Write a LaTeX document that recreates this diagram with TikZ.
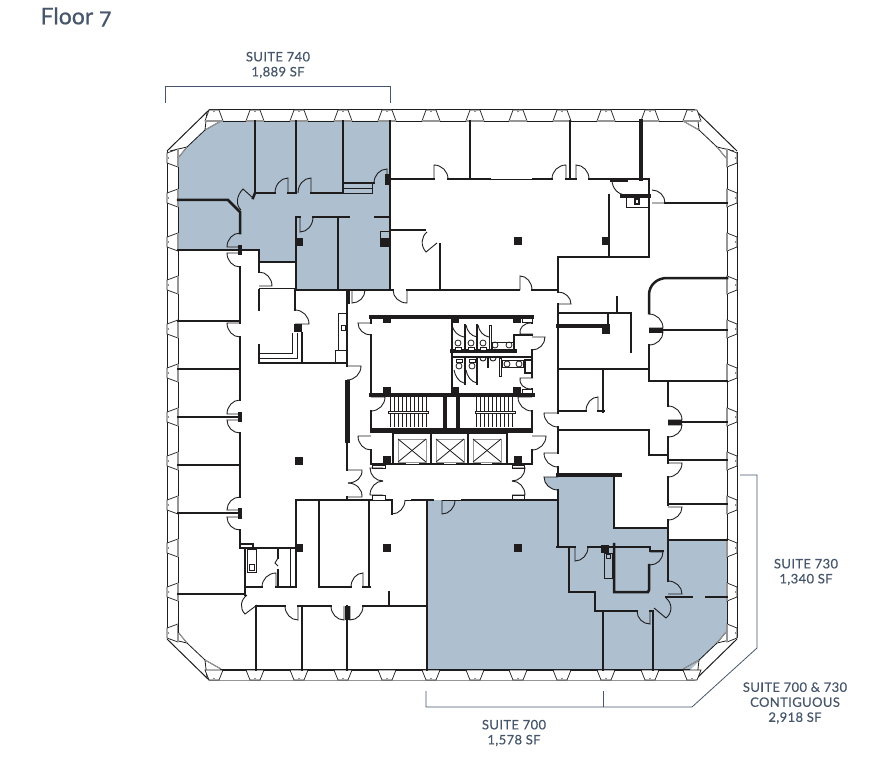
\documentclass[tikz,border=0pt]{standalone}
\usepackage{fontspec}
\setmainfont{Lato}
\newfontfamily\suitefont[FakeBold=0.45,LetterSpace=3]{Lato}
\newfontfamily\floorfont[Numbers=OldStyle,FakeBold=0.6]{Lato}
\usepackage{xcolor}
\usetikzlibrary{calc}
\definecolor{suiteblue}{RGB}{174,191,208}
\definecolor{suiteslate}{RGB}{71,86,107}
\definecolor{glassgray}{RGB}{150,150,150}
\definecolor{wallblack}{RGB}{30,28,28}
\tikzset{
    wall/.style={wallblack, line width=2.5pt, line cap=rect},
    wallheavy/.style={wallblack, line width=3.5pt, line cap=rect},
    wallfat/.style={wallblack, line width=5pt},
    thinline/.style={wallblack, line width=0.8pt},
    swingline/.style={wallblack, line width=0.9pt},
    shell/.style={wallblack, line width=1pt},
    glass/.style={glassgray, line width=1.4pt},
    mullion/.style={wallblack, line width=0.7pt, fill=white},
    leader/.style={suiteslate, line width=0.8pt},
    suitelabel/.style={suiteslate, align=center, font=\suitefont\fontsize{13}{15}\selectfont},
}
% hinge, end of the leaf, end of the swing
\newcommand{\swing}[3]{
    \coordinate (swingcorner) at ($(#2)+(#3)-(#1)$);
    \draw[swingline] (#1) -- (#2) .. controls ($(#2)!0.55!(swingcorner)$) and ($(#3)!0.55!(swingcorner)$) .. (#3);
}
\begin{document}
\begin{tikzpicture}[x=1pt, y=-1pt]
    \useasboundingbox (0,0) rectangle (894,762);

    % Leased suites
    \fill[suiteblue] (221,121) -- (390,121) -- (390,290) -- (296,290) -- (296,262) -- (259,262)
        -- (259,250) -- (178,250) -- (178,158) -- (187,147) -- (205,130) -- cycle;
    \fill[suiteblue] (427,500) -- (558,500) -- (558,490) .. controls (550,490) and (544,485) .. (544,477)
        -- (558,477) -- (558,475) -- (614,475) -- (614,528) -- (668,528) -- (668,540) -- (727,540) -- (727,632)
        -- (718,642) -- (700,660) -- (690,670) -- (427,670) -- cycle;

    % Building shell
    \draw[shell] (209,110) -- (695,110);
    \draw[shell] (737,152) -- (737,638);
    \draw[shell] (167,151) -- (167,638);
    \draw[glass, line width=1pt] (209,680) -- (695,680);
    \draw[thinline] (221,121) -- (692,121);
    \draw[thinline] (178,158) -- (178,633);
    \draw[thinline] (727,163) -- (727,632);
    \draw[wall, line width=2.2pt, line cap=butt] (220,670) -- (690,670);
    \foreach \sx/\sy in {1/1,-1/1,1/-1,-1/-1} {
        \begin{scope}[shift={(452,395)}, xscale=\sx, yscale=\sy]
            \draw[shell] (-243,-285) -- (-285,-244);
            \draw[thinline] (-245,-283) -- (-247,-265) -- (-231,-274);
            \draw[thinline] (-282,-244) -- (-265,-248) -- (-274,-237);
            \draw[thinline] (-247,-265) -- (-265,-248);
            \draw[glass, line width=1pt] (-231,-274) -- (-247,-265);
            \draw[glass, line width=1pt] (-265,-248) -- (-274,-237);
        \end{scope}
    }

    % Window mullions
    \foreach \mx in {214,255,299,343,387,431,475,518,562,606,650,692} {
        \draw[mullion] (\mx-5,110) -- (\mx+5,110) -- (\mx+9,121) -- (\mx-9,121) -- cycle;
        \draw[glass] (\mx-9,121) -- (\mx+9,121);
        \fill[wallblack] (\mx,111.5) circle (0.7);
        \draw[mullion] (\mx-5,680) -- (\mx+5,680) -- (\mx+9,670) -- (\mx-9,670) -- cycle;
        \fill[wallblack] (\mx,678.5) circle (0.7);
    }
    \foreach \my in {158,198,242,285,329,373,417,461,505,548,592,633} {
        \draw[mullion] (167,\my-5) -- (167,\my+5) -- (178,\my+9) -- (178,\my-9) -- cycle;
        \draw[glass] (178,\my-9) -- (178,\my+9);
        \fill[wallblack] (168.5,\my) circle (0.7);
        \draw[mullion] (737,\my-5) -- (737,\my+5) -- (727,\my+9) -- (727,\my-9) -- cycle;
        \draw[glass] (727,\my-9) -- (727,\my+9);
        \fill[wallblack] (735.5,\my) circle (0.7);
    }

    % Columns
    \foreach \cx/\cy in {299/242,385/242,518/241,606/241,298/328,606/330,299/461,299/548,387/548,518/548,605/549,
        387/319,455/319,517/319,387/391,455/391,517/391,387/460,518/460} {
        \fill[wallblack] (\cx-4,\cy-4) rectangle (\cx+4,\cy+4);
    }

    % Suite 740 walls
    \draw[wall] (255,121) -- (255,193) -- (275,193);
    \draw[wall] (288,193) -- (296,193);
    \draw[wall] (296,121) -- (296,193);
    \draw[wall] (343,121) -- (343,193) -- (311,193);
    \draw[wall] (343,183) -- (374,183);
    \draw[thinline] (343,188) -- (372,188);
    \draw[thinline] (343,193) -- (372,193) -- (372,183);
    \draw[wall] (390,121) -- (390,290) -- (296,290);
    \draw[wallheavy] (387,176) -- (387,183);
    \swing{288,193}{288,178}{275,193}
    \swing{311,193}{311,178}{298,193}
    \swing{387,183}{387,169}{374,183}
    \swing{253,198}{243,189}{241,210}
    \draw[wall] (255,193) -- (253,198);
    \draw[wall] (178,200) -- (228,200) -- (240,212) -- (240,233);
    \swing{240,247}{227,247}{240,233}
    \swing{240,253}{227,253}{240,267}
    \draw[wallheavy] (240,247) -- (240,253);
    \draw[wall] (178,250) -- (259,250) -- (259,262) -- (296,262);
    \draw[wall] (259,262) -- (259,272);
    \swing{259,286}{272,286}{259,272}
    \draw[wall] (296,217) -- (296,290);
    \draw[wall] (313,217) -- (349,217);
    \draw[wall] (375,217) -- (390,217);
    \swing{300,217}{300,232}{313,217}
    \draw[wall] (296,217) -- (300,217);
    \draw[wall] (338,217) -- (338,290);
    \draw[thinline] (380,231) rectangle (390,246);

    % West offices
    \draw[wall] (240,267) -- (240,323);
    \draw[wall] (178,321) -- (240,321);
    \swing{240,323}{227,323}{240,337}
    \draw[wall] (240,337) -- (240,400);
    \draw[wall] (178,369) -- (240,369);
    \draw[wall] (178,417) -- (240,417);
    \swing{240,414}{227,414}{240,400}
    \swing{240,420}{227,420}{240,433}
    \draw[wallheavy] (240,414) -- (240,420);
    \draw[wall] (240,433) -- (240,497);
    \draw[wall] (178,465) -- (240,465);
    \draw[wall] (178,513) -- (240,513);
    \swing{240,510}{227,510}{240,497}
    \swing{240,517}{227,517}{240,530}
    \draw[wallheavy] (240,510) -- (240,517);
    \draw[wall] (240,530) -- (240,548) -- (296,548);
    \draw[wall] (242,544) -- (253,544) -- (253,548);

    % Work room north of the main corridor
    \draw[wall] (259,345) -- (259,363) -- (347,363);
    \draw[wall] (259,290) -- (259,310);
    \draw[thinline] (259,288) -- (295,288);
    \draw[wall] (295,290) -- (295,310);
    \swing{295,324}{309,324}{295,310}
    \draw[thinline] (260,353) -- (292,353) -- (292,333);
    \draw[thinline] (260,358) -- (297,358) -- (297,333);
    \draw[wall] (302,333) -- (302,363);
    \draw[wall] (347,290) -- (347,362);
    \draw[thinline] (338,313) rectangle (347,350);
    \draw[thinline] (335,350) rectangle (347,362);
    \draw[thinline] (341,325) rectangle (345,330);

    % South-west rooms
    \draw[wall] (296,500) -- (296,587);
    \draw[wall] (296,500) -- (392,500) -- (392,514);
    \draw[wall] (319,500) -- (319,587) -- (351,587);
    \swing{363,587}{363,573}{351,587}
    \draw[wall] (363,587) -- (370,587);
    \draw[wall] (369,500) -- (369,587);
    \swing{392,500}{392,514}{405,500}
    \draw[wall] (412,500) -- (433,500);
    \draw[thinline] (405,500) -- (412,500);
    \draw[wall] (245,548) -- (245,595);
    \draw[wall] (245,587) -- (262,587);
    \swing{276,587}{276,573}{262,587}
    \draw[wall] (276,587) -- (296,587);
    \draw[wall] (278,548) -- (278,558);
    \draw[wall] (278,570) -- (278,587);
    \draw[swingline] (278,558) -- (275,563) -- (278,566);
    \draw[thinline] (290,549) -- (290,586);
    \draw[thinline] (247,549) rectangle (256,572);
    \draw[thinline] (249,564) rectangle (254,570);
    \draw[wall] (178,594) -- (245,594);
    \swing{257,605}{245,614}{247,595}
    \draw[wall] (257,606) -- (285,606);
    \swing{298,606}{298,620}{285,606}
    \draw[wall] (298,606) -- (331,606);
    \swing{344,606}{344,620}{331,606}
    \swing{350,606}{350,620}{363,606}
    \draw[wallfat] (347,606) -- (347,620);
    \draw[wall] (363,606) -- (427,606);
    \draw[wall] (389,592) -- (389,606);
    \draw[wall] (256,606) -- (256,670);
    \draw[wall] (302,606) -- (302,670);
    \draw[wall] (347,606) -- (347,670);
    \draw[wall] (427,500) -- (427,670);
    \draw[thinline] (178,615) -- (178,633);

    % North rooms
    \draw[wall] (390,179) -- (434,179);
    \swing{434,179}{434,165}{448,179}
    \draw[wall] (448,179) -- (490,179);
    \draw[thinline] (490,179) -- (533,179);
    \draw[wall] (533,179) -- (552,179);
    \swing{566,179}{566,165}{552,179}
    \draw[wall] (566,179) -- (576,179);
    \swing{576,179}{576,165}{589,179}
    \draw[wall] (589,179) -- (649,179) -- (649,257) -- (558,257);
    \draw[wall] (470,121) -- (470,179);
    \draw[wall] (570,121) -- (570,179);
    \draw[wallheavy] (641,121) -- (641,179);
    \draw[wallheavy] (612,180) -- (626,180);
    \swing{626,180}{612,180}{626,195}
    \draw[wallheavy] (622,196) -- (649,196);
    \draw[thinline] (626,197) rectangle (649,207);
    \draw[wallblack, fill=white, line width=1.5pt] (635,199) rectangle (639,204);
    \swing{652,203}{665,203}{652,190}
    \draw[wall] (665,203) -- (727,203);
    \draw[wall] (609,195) -- (609,257);
    \draw[wall] (558,257) -- (558,292);
    \swing{558,304}{571,304}{558,292}
    \draw[wall] (558,304) -- (558,413);
    \draw[wall] (440,244) -- (440,290) -- (407,290);
    \draw[wall] (440,290) -- (519,290);
    \swing{520,290}{520,276}{532,290}
    \draw[wall] (532,290) -- (558,290);
    \draw[wall] (390,230) -- (425,230);
    \swing{437,243}{426,252}{427,232}
    \swing{407,290}{407,303}{393,290}
    \draw[wall] (349,290) -- (349,303);
    \swing{352,290}{352,303}{365,290}
    \draw[wall] (365,290) -- (393,290);
    \draw[thinline] (347,290) -- (352,290);

    % Corridor west wall
    \swing{347,366}{361,366}{347,380}
    \draw[wall] (347,362) -- (347,366);
    \draw[wallfat] (347,380) -- (347,443);
    \draw[wall] (347,443) -- (347,470);
    \swing{347,470}{362,470}{348,483}
    \swing{347,497}{362,497}{348,483}
    \draw[wall] (347,497) -- (347,500);

    % Core, plant room
    \draw[wallheavy] (371,317) -- (532,317);
    \draw[wall] (371,317) -- (371,323);
    \swing{371,323}{358,323}{371,335}
    \draw[wall] (371,335) -- (371,395);
    \draw[wallheavy] (371,395) -- (533,395);
    \draw[wall] (452,317) -- (452,395);

    % Core, restrooms
    \draw[wallheavy] (452,351) -- (515,351);
    \draw[wall] (452,357) -- (532,357);
    \draw[wall] (514,351) -- (514,335) -- (532,335);
    \draw[wall] (532,317) -- (532,323);
    \draw[wall] (532,350) -- (532,377);
    \draw[wall] (532,389) -- (532,395);
    \swing{532,337}{545,337}{532,350}
    \swing{533,334}{520,334}{531,323}
    \swing{533,378}{520,378}{531,389}
    \draw[wall] (465,325) -- (465,351);
    \draw[wall] (477,325) -- (477,351);
    \draw[thinline] (489,325) rectangle (491,349);
    \draw[swingline] (452,325) .. controls (453,331) and (458,336) .. (464,337);
    \draw[swingline] (466,325) .. controls (467,331) and (471,336) .. (477,337);
    \draw[swingline] (478,325) .. controls (479,331) and (483,336) .. (489,337);
    \foreach \tx in {458,471,483} {
        \draw[thinline] (\tx,343) circle (3);
        \draw[thinline, fill=white] (\tx-3,347) rectangle (\tx+3,350);
    }
    \draw[thinline] (492,342) rectangle (514,350);
    \foreach \tx in {495,509} {
        \draw[thinline] (\tx,345) circle (3);
    }
    \draw[wall] (465,357) -- (465,384);
    \draw[wall] (477,357) -- (477,384);
    \foreach \tx in {459,472} {
        \draw[thinline] (\tx,366) circle (3);
        \draw[thinline, fill=white] (\tx-3,359) rectangle (\tx+3,362);
    }
    \draw[swingline] (454,370) .. controls (455,376) and (459,382) .. (464,383);
    \draw[swingline] (466,370) .. controls (467,376) and (471,382) .. (477,383);
    \draw[swingline] (480,358) .. controls (480,362) and (486,362) .. (486,358);
    \draw[swingline] (490,358) .. controls (490,362) and (496,362) .. (496,358);
    \draw[wall] (488,358) -- (488,367);
    \draw[thinline] (499,358) rectangle (501,376);
    \draw[thinline] (502,360) rectangle (523,367);
    \foreach \tx in {507,519} {
        \draw[thinline] (\tx,364) circle (3);
    }
    \draw[wall, fill=white] (525,360) rectangle (532,373);
    \draw[thinline, fill=white] (522,318) rectangle (532,322);
    \draw[thinline, fill=white] (522,389) rectangle (532,393);

    % Core, stairs
    \swing{371,397}{385,397}{371,411}
    \swing{532,397}{518,397}{532,411}
    \draw[wall] (371,411) -- (371,432);
    \draw[wall] (532,411) -- (532,432);
    \draw[wallheavy] (445,397) -- (445,430);
    \draw[wallheavy] (458,397) -- (458,430);
    \draw[wallfat] (371,430) -- (532,430);
    \foreach \sx in {390,394,...,428} {
        \draw[wallblack, line width=0.8pt] (\sx,397) -- (\sx,427);
    }
    \foreach \sx in {476,480,...,514} {
        \draw[wallblack, line width=0.8pt] (\sx,397) -- (\sx,427);
    }
    \draw[thinline, fill=white] (388,411) rectangle (428,413);
    \draw[thinline, fill=white] (475,411) rectangle (515,413);

    % Core, elevators
    \swing{371,436}{358,436}{371,450}
    \swing{532,436}{546,436}{532,450}
    \draw[wall] (371,450) -- (371,464);
    \draw[wall] (532,450) -- (532,464);
    \draw[thinline] (393,433) -- (507,433);
    \draw[wall] (393,432) -- (393,464);
    \draw[wall] (431,432) -- (431,464);
    \draw[wall] (468,432) -- (468,464);
    \draw[wall] (507,432) -- (507,464);
    \foreach \ex/\ew in {398/426,436/464,473/501} {
        \draw[glass, line width=0.9pt] (\ex,439) rectangle (\ew,462);
        \draw[thinline] (\ex,439) -- (\ew,462);
        \draw[thinline] (\ex,462) -- (\ew,439);
    }
    \draw[thinline] (371,464) -- (532,464);
    \foreach \ea/\eb in {371/405,420/443,457/480,493/532} {
        \draw[wall] (\ea,464) -- (\eb,464);
    }

    % Elevator lobby
    \draw[thinline, fill=white] (372,465) rectangle (385,468);
    \draw[thinline, fill=white] (512,465) rectangle (524,468);
    \draw[thinline, fill=white] (372,495) rectangle (385,500);
    \draw[thinline, fill=white] (512,495) rectangle (524,500);
    \swing{383,468}{370,468}{383,481}
    \swing{383,495}{370,495}{383,481}
    \swing{512,468}{525,468}{512,481}
    \swing{512,495}{525,495}{512,481}

    % Suite 700 and 730 walls
    \draw[wall] (427,500) -- (433,500);
    \swing{442,500}{442,514}{455,500}
    \draw[thinline] (442,500) -- (462,500);
    \draw[wall] (462,500) -- (558,500);
    \draw[wallheavy] (558,475) -- (620,475);
    \swing{558,477}{544,477}{558,490}
    \draw[wall] (558,490) -- (558,547);
    \draw[wall] (614,475) -- (614,528) -- (668,528);
    \draw[wall] (557,547) -- (575,547);
    \swing{575,547}{575,561}{588,547}
    \draw[wall] (588,547) -- (612,547);
    \draw[wall] (569,547) -- (569,592) -- (595,592) -- (595,611) -- (637,611);
    \swing{650,611}{650,624}{637,611}
    \draw[wall] (650,611) -- (653,611);
    \draw[wall] (653,611) -- (653,670);
    \draw[wall] (603,611) -- (603,670);
    \swing{654,608}{666,618}{666,598}
    \draw[wall] (666,597) -- (692,597);
    \draw[wall] (706,597) -- (727,597);
    \swing{668,594}{682,594}{668,581}
    \draw[wall] (614,544) -- (614,592) -- (648,592) -- (649,590) -- (649,565);
    \draw[wall] (614,547) -- (650,547) -- (650,551) -- (663,551);
    \swing{650,552}{663,552}{650,565}
    \draw[thinline] (604,553) rectangle (612,578);
    \draw[thinline] (606,554) rectangle (610,558);

    % East offices
    \draw[wall] (558,313) -- (631,313) -- (631,352);
    \draw[wall] (617,297) -- (617,313);
    \draw[wallheavy] (558,326) -- (608,326);
    \draw[wall] (608,313) -- (608,332);
    \draw[wall] (558,369) -- (649,369);
    \draw[wall] (603,369) -- (603,412);
    \draw[wall] (558,411) -- (586,411);
    \swing{598,411}{598,397}{586,411}
    \draw[wall] (598,411) -- (604,411);
    \swing{558,413}{544,413}{558,427}
    \draw[wall] (558,427) -- (558,453);
    \swing{558,453}{544,453}{558,467}
    \draw[wall] (558,467) -- (558,475);
    \draw[wall] (558,430) -- (649,430) -- (649,455) -- (668,455);
    \draw[wall] (649,313) -- (649,295) .. controls (649,285) and (657,278) .. (667,278) -- (727,278);
    \swing{649,328}{663,328}{649,314}
    \swing{649,332}{663,332}{649,345}
    \draw[wallfat] (649,330) -- (663,330);
    \draw[wall] (663,330) -- (727,330);
    \draw[wall] (649,345) -- (649,381) -- (727,381);
    \draw[wall] (668,381) -- (668,406);
    \swing{668,420}{682,420}{668,406}
    \swing{668,425}{682,425}{668,437}
    \draw[wallfat] (668,422) -- (682,422);
    \draw[wall] (682,422) -- (727,422);
    \draw[wall] (668,437) -- (668,463);
    \draw[wall] (668,460) -- (727,460);
    \swing{668,463}{682,463}{668,477}
    \draw[wall] (668,477) -- (668,505);
    \draw[wall] (668,504) -- (727,504);
    \swing{668,507}{682,507}{668,520}
    \draw[wall] (668,520) -- (668,581);
    \draw[wall] (668,540) -- (727,540);

    % Suite brackets
    \draw[leader] (165,103) -- (165,86) -- (390,86) -- (390,103);
    \draw[leader] (426,691) -- (426,707) -- (692,707) -- (757,648) -- (757,475) -- (740,475);
    \draw[leader] (603,691) -- (603,707);

    % Labels
    \node[suiteslate, anchor=west, font=\floorfont\fontsize{23}{26}\selectfont] (floortitle) at (37,17) {Floor 7};
    \node[suitelabel] (suite740) at (278,65) {SUITE 740\\1,889 SF};
    \node[suitelabel] (suite730) at (806,572) {SUITE 730\\1,340 SF};
    \node[suitelabel] (suite700) at (514,733) {SUITE 700\\1,578 SF};
    \node[suitelabel] (suitejoint) at (795,703) {SUITE 700 \& 730\\CONTIGUOUS\\2,918 SF};
\end{tikzpicture}
\end{document}
